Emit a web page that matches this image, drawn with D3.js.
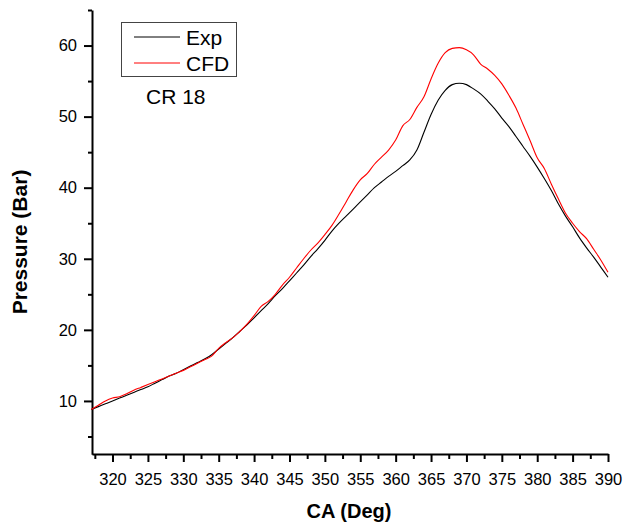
<!DOCTYPE html>
<html>
<head>
<meta charset="utf-8">
<script src="https://cdn.jsdelivr.net/npm/d3@7"></script>
<style>
  html, body { margin: 0; padding: 0; background: #fff; }
  svg { display: block; font-family: "Liberation Sans", Arial, sans-serif; }
</style>
</head>
<body>
<svg id="chart" width="624" height="526"></svg>
<script>
const crankAngle = [317,318,319,320,321,322,323,324,325,326,327,328,329,330,331,332,333,334,335,336,337,338,339,340,341,342,343,344,345,346,347,348,349,350,351,352,353,354,355,356,357,358,359,360,361,362,363,364,365,366,367,368,369,370,371,372,373,374,375,376,377,378,379,380,381,382,383,384,385,386,387,388,389,390];
const expPressure = [8.8,9.2,9.6,10.0,10.4,10.8,11.2,11.6,12.0,12.5,13.0,13.5,13.9,14.4,14.9,15.4,15.9,16.5,17.3,18.1,18.9,19.8,20.7,21.7,22.7,23.7,24.8,25.8,26.9,28.0,29.1,30.3,31.4,32.6,33.9,35.0,36.0,37.0,38.0,39.0,40.0,40.8,41.6,42.3,43.1,43.9,45.3,47.8,50.3,52.3,53.7,54.5,54.7,54.5,53.9,53.2,52.2,51.1,49.8,48.6,47.2,45.8,44.4,42.9,41.3,39.6,37.7,36.0,34.5,32.9,31.5,30.2,28.8,27.4];
const cfdPressure = [8.8,9.4,10.0,10.4,10.6,11.0,11.5,11.9,12.3,12.7,13.1,13.5,13.9,14.3,14.8,15.3,15.8,16.3,17.4,18.2,18.9,19.8,20.8,22.0,23.3,24.0,25.0,26.3,27.4,28.7,30.0,31.2,32.2,33.4,34.7,36.3,38.0,39.7,41.1,42.0,43.3,44.3,45.3,46.7,48.7,49.6,51.3,52.8,55.3,57.5,59.0,59.6,59.7,59.4,58.7,57.4,56.7,55.8,54.6,53.0,51.2,48.9,46.6,44.2,42.7,40.5,38.4,36.4,35.0,33.8,32.8,31.3,29.8,28.1];
const xMajorTicks = [320,325,330,335,340,345,350,355,360,365,370,375,380,385,390];
const xMinorTicks = [317.5,322.5,327.5,332.5,337.5,342.5,347.5,352.5,357.5,362.5,367.5,372.5,377.5,382.5,387.5];
const yMajorTicks = [10,20,30,40,50,60];
const yMinorTicks = [5,15,25,35,45,55,65];
const seriesNames = ["Exp", "CFD"];
const seriesColors = ["#000000", "#ff0000"];
const annotation = "CR 18";
const xTitle = "CA (Deg)";
const yTitle = "Pressure (Bar)";

const svg = d3.select("#chart");
const x = d3.scaleLinear().domain([317.1, 390]).range([92, 608]);
const y = d3.scaleLinear().domain([2.5, 65]).range([454.25, 10]);

// minor ticks
const xMinorAxis = d3.axisBottom(x).tickValues(xMinorTicks).tickSize(5).tickFormat("");
const yMinorAxis = d3.axisLeft(y).tickValues(yMinorTicks).tickSize(4).tickFormat("");
svg.append("g").attr("transform", "translate(0,454)").call(xMinorAxis)
  .call(g => g.select(".domain").remove())
  .call(g => g.selectAll("line").attr("stroke", "#000").attr("stroke-width", 2));
svg.append("g").attr("transform", "translate(92,0)").call(yMinorAxis)
  .call(g => g.select(".domain").remove())
  .call(g => g.selectAll("line").attr("stroke", "#000").attr("stroke-width", 2));

// major axes
const xAxis = d3.axisBottom(x).tickValues(xMajorTicks).tickSize(8).tickSizeOuter(0).tickPadding(11).tickFormat(d3.format("d"));
const yAxis = d3.axisLeft(y).tickValues(yMajorTicks).tickSize(8).tickSizeOuter(0).tickPadding(7).tickFormat(d3.format("d"));
svg.append("g").attr("transform", "translate(0,454)").call(xAxis)
  .call(g => g.select(".domain").attr("stroke", "#000").attr("stroke-width", 2))
  .call(g => g.selectAll("line").attr("stroke", "#000").attr("stroke-width", 2))
  .call(g => g.selectAll("text").attr("font-size", 16.5).attr("fill", "#000").attr("font-family", "Liberation Sans, Arial, sans-serif"));
svg.append("g").attr("transform", "translate(92,0)").call(yAxis)
  .call(g => g.select(".domain").attr("stroke", "#000").attr("stroke-width", 2))
  .call(g => g.selectAll("line").attr("stroke", "#000").attr("stroke-width", 2))
  .call(g => g.selectAll("text").attr("font-size", 16.5).attr("fill", "#000").attr("font-family", "Liberation Sans, Arial, sans-serif"));

// lines
const series = [expPressure, cfdPressure];
const line = d3.line().x((d, i) => x(crankAngle[i])).y(d => y(d)).curve(d3.curveMonotoneX);
series.forEach((vals, k) => {
  svg.append("path").datum(vals)
    .attr("fill", "none")
    .attr("stroke", seriesColors[k])
    .attr("stroke-width", 1.1)
    .attr("d", line);
});

// legend
const lg = svg.append("g");
lg.append("rect").attr("x", 121.5).attr("y", 22.5).attr("width", 115).attr("height", 54)
  .attr("fill", "#fff").attr("stroke", "#444").attr("stroke-width", 1);
seriesNames.forEach((name, k) => {
  const ly = 37 + k * 26;
  lg.append("line").attr("x1", 134).attr("x2", 180).attr("y1", ly).attr("y2", ly)
    .attr("stroke", seriesColors[k]).attr("stroke-width", 1);
  lg.append("text").attr("x", 186).attr("y", ly + 8).attr("font-size", 21).attr("fill", "#000").text(name);
});

svg.append("text").attr("x", 146).attr("y", 104).attr("font-size", 21).attr("fill", "#000").text(annotation);

// titles
svg.append("text").attr("x", 349).attr("y", 518).attr("text-anchor", "middle")
  .attr("font-size", 20).attr("font-weight", "bold").attr("fill", "#000").text(xTitle);
svg.append("text").attr("transform", "translate(27,242) rotate(-90)").attr("text-anchor", "middle")
  .attr("font-size", 21).attr("font-weight", "bold").attr("fill", "#000").text(yTitle);
</script>
</body>
</html>
